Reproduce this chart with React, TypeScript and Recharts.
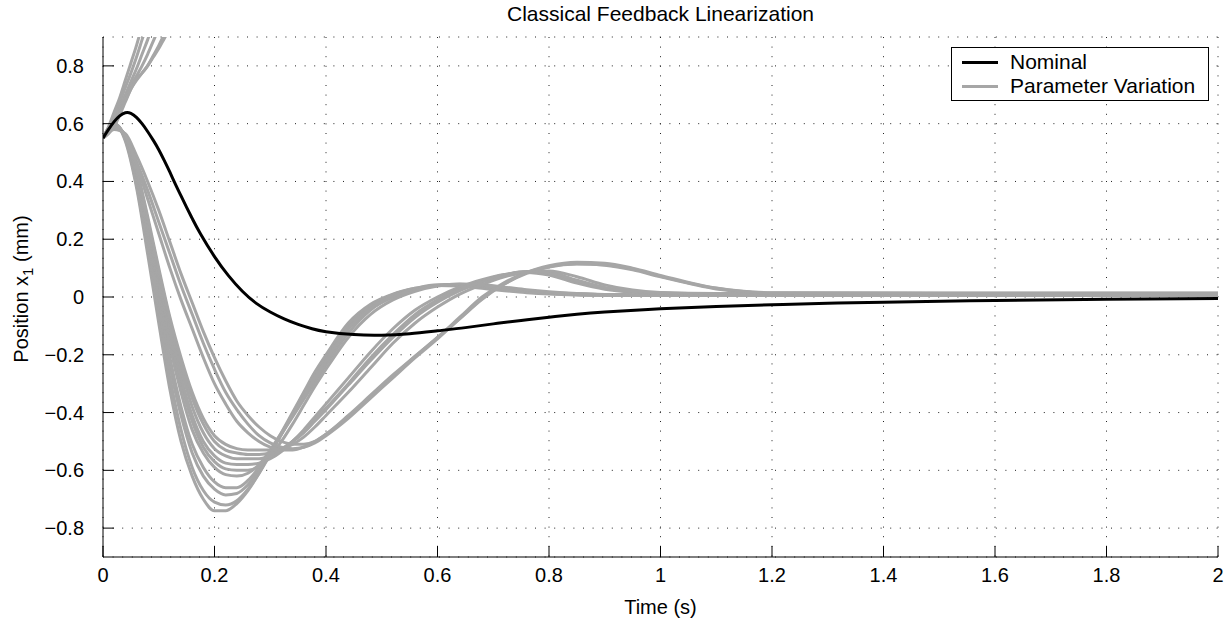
import React from 'react';
import { LineChart, Line, XAxis, YAxis, CartesianGrid, Legend } from 'recharts';

const FONT = '"Liberation Sans", Arial, Helvetica, sans-serif';
const GRAY = '#a6a6a6';
const TICK_LEN = 11;

// Axis ticks
const xTicks = [0, 0.2, 0.4, 0.6, 0.8, 1, 1.2, 1.4, 1.6, 1.8, 2];
const yTicks = [-0.8, -0.6, -0.4, -0.2, 0, 0.2, 0.4, 0.6, 0.8];

// Nominal response
const nominalTime = [0, 0.01, 0.02, 0.03, 0.04, 0.05, 0.06, 0.07, 0.08, 0.09, 0.10, 0.11, 0.12, 0.13, 0.14, 0.15, 0.16, 0.175, 0.20, 0.225, 0.25, 0.275, 0.30, 0.325, 0.35, 0.375, 0.40, 0.45, 0.50, 0.55, 0.60, 0.65, 0.70, 0.75, 0.80, 0.85, 0.90, 1.0, 1.1, 1.2, 1.3, 1.4, 1.6, 1.8, 2.0];
const nominalValues = [0.55, 0.58, 0.607, 0.627, 0.638, 0.636, 0.622, 0.6, 0.573, 0.543, 0.51, 0.472, 0.432, 0.39, 0.35, 0.31, 0.272, 0.218, 0.14, 0.074, 0.02, -0.022, -0.052, -0.076, -0.095, -0.11, -0.12, -0.13, -0.132, -0.127, -0.117, -0.106, -0.093, -0.081, -0.07, -0.06, -0.052, -0.041, -0.033, -0.027, -0.022, -0.018, -0.012, -0.008, -0.005];

// Parameter variation runs (converging)
const runTime = [0, 0.02, 0.04, 0.06, 0.08, 0.10, 0.12, 0.14, 0.16, 0.18, 0.20, 0.22, 0.24, 0.26, 0.28, 0.30, 0.32, 0.34, 0.36, 0.38, 0.40, 0.44, 0.48, 0.52, 0.56, 0.60, 0.64, 0.68, 0.72, 0.76, 0.80, 0.85, 0.90, 0.95, 1.00, 1.10, 1.20, 1.50, 2.00];
const runA = [0.55, 0.60, 0.54, 0.38, 0.15, -0.09, -0.32, -0.50, -0.62, -0.70, -0.74, -0.74, -0.715, -0.67, -0.61, -0.54, -0.47, -0.40, -0.33, -0.26, -0.20, -0.09, -0.025, 0.01, 0.03, 0.04, 0.038, 0.03, 0.022, 0.015, 0.01, 0.007, 0.006, 0.005, 0.005, 0.005, 0.005, 0.005, 0.005];
const runB = [0.55, 0.60, 0.545, 0.39, 0.17, -0.06, -0.28, -0.46, -0.59, -0.67, -0.71, -0.72, -0.705, -0.665, -0.61, -0.545, -0.475, -0.405, -0.335, -0.27, -0.21, -0.10, -0.03, 0.008, 0.03, 0.042, 0.042, 0.034, 0.025, 0.017, 0.012, 0.008, 0.006, 0.005, 0.005, 0.005, 0.005, 0.005, 0.005];
const runC = [0.55, 0.60, 0.55, 0.40, 0.19, -0.03, -0.24, -0.41, -0.54, -0.62, -0.665, -0.685, -0.68, -0.65, -0.60, -0.54, -0.475, -0.41, -0.345, -0.28, -0.22, -0.11, -0.035, 0.005, 0.028, 0.04, 0.043, 0.037, 0.028, 0.02, 0.014, 0.009, 0.007, 0.006, 0.006, 0.006, 0.006, 0.006, 0.006];
const runD = [0.55, 0.60, 0.55, 0.41, 0.21, 0.0, -0.21, -0.38, -0.51, -0.59, -0.64, -0.66, -0.66, -0.635, -0.59, -0.535, -0.475, -0.415, -0.355, -0.295, -0.235, -0.125, -0.045, 0.0, 0.026, 0.04, 0.044, 0.039, 0.03, 0.022, 0.016, 0.011, 0.008, 0.007, 0.006, 0.006, 0.006, 0.006, 0.006];
const runE = [0.55, 0.595, 0.55, 0.42, 0.23, 0.03, -0.17, -0.33, -0.46, -0.54, -0.59, -0.615, -0.62, -0.61, -0.58, -0.53, -0.47, -0.41, -0.345, -0.28, -0.22, -0.11, -0.04, 0.0, 0.025, 0.04, 0.043, 0.038, 0.03, 0.022, 0.016, 0.011, 0.008, 0.007, 0.006, 0.006, 0.006, 0.006, 0.006];
const runF = [0.55, 0.595, 0.55, 0.425, 0.24, 0.05, -0.14, -0.30, -0.43, -0.52, -0.57, -0.595, -0.60, -0.60, -0.585, -0.55, -0.50, -0.44, -0.375, -0.31, -0.25, -0.14, -0.06, -0.01, 0.02, 0.038, 0.045, 0.042, 0.034, 0.025, 0.018, 0.012, 0.009, 0.008, 0.007, 0.007, 0.007, 0.007, 0.007];
const runG = [0.55, 0.595, 0.555, 0.43, 0.25, 0.06, -0.12, -0.28, -0.41, -0.50, -0.55, -0.575, -0.58, -0.58, -0.575, -0.56, -0.535, -0.50, -0.46, -0.415, -0.37, -0.28, -0.19, -0.11, -0.045, 0.0, 0.035, 0.06, 0.078, 0.085, 0.076, 0.048, 0.027, 0.017, 0.013, 0.011, 0.011, 0.011, 0.011];
const runH = [0.55, 0.59, 0.555, 0.435, 0.26, 0.08, -0.10, -0.25, -0.38, -0.47, -0.525, -0.55, -0.56, -0.56, -0.56, -0.55, -0.53, -0.50, -0.465, -0.425, -0.385, -0.30, -0.21, -0.13, -0.06, -0.01, 0.028, 0.056, 0.077, 0.088, 0.082, 0.054, 0.03, 0.018, 0.013, 0.011, 0.011, 0.011, 0.011];
const runI = [0.55, 0.59, 0.56, 0.44, 0.27, 0.09, -0.08, -0.23, -0.35, -0.44, -0.50, -0.53, -0.54, -0.545, -0.545, -0.54, -0.525, -0.50, -0.47, -0.43, -0.39, -0.305, -0.22, -0.14, -0.07, -0.018, 0.022, 0.052, 0.075, 0.088, 0.085, 0.058, 0.033, 0.02, 0.014, 0.012, 0.012, 0.012, 0.012];
const runJ = [0.55, 0.59, 0.56, 0.445, 0.28, 0.10, -0.07, -0.21, -0.33, -0.42, -0.48, -0.51, -0.525, -0.53, -0.53, -0.53, -0.525, -0.51, -0.485, -0.45, -0.41, -0.33, -0.245, -0.16, -0.09, -0.035, 0.01, 0.043, 0.07, 0.086, 0.09, 0.07, 0.042, 0.024, 0.016, 0.012, 0.012, 0.012, 0.012];
const runK = [0.55, 0.58, 0.565, 0.49, 0.40, 0.30, 0.19, 0.08, -0.02, -0.12, -0.21, -0.29, -0.36, -0.41, -0.45, -0.48, -0.50, -0.51, -0.51, -0.50, -0.475, -0.415, -0.345, -0.275, -0.205, -0.14, -0.07, 0.0, 0.05, 0.085, 0.105, 0.115, 0.11, 0.094, 0.07, 0.028, 0.013, 0.012, 0.012];
const runL = [0.55, 0.585, 0.56, 0.47, 0.37, 0.26, 0.15, 0.04, -0.06, -0.16, -0.25, -0.33, -0.39, -0.44, -0.48, -0.505, -0.52, -0.525, -0.52, -0.505, -0.48, -0.42, -0.35, -0.28, -0.21, -0.145, -0.075, -0.005, 0.045, 0.082, 0.104, 0.114, 0.112, 0.097, 0.072, 0.03, 0.014, 0.013, 0.013];
const runM = [0.55, 0.59, 0.56, 0.46, 0.34, 0.22, 0.10, -0.01, -0.11, -0.21, -0.30, -0.37, -0.43, -0.47, -0.50, -0.52, -0.53, -0.53, -0.52, -0.50, -0.475, -0.41, -0.34, -0.27, -0.205, -0.14, -0.075, -0.008, 0.045, 0.085, 0.108, 0.12, 0.117, 0.1, 0.075, 0.031, 0.015, 0.014, 0.014];

// Parameter variation runs (diverging, leave the axes at the top)
const divergeTime = [0, 0.01, 0.02, 0.03, 0.04, 0.05, 0.06, 0.07, 0.08, 0.09, 0.10, 0.11, 0.12, 0.13];
const divA = [0.55, 0.59, 0.64, 0.69, 0.75, 0.81, 0.87, 0.94, 1.02];
const divB = [0.55, 0.585, 0.63, 0.675, 0.725, 0.775, 0.83, 0.89, 0.95, 1.02];
const divC = [0.55, 0.58, 0.62, 0.66, 0.70, 0.745, 0.79, 0.84, 0.89, 0.945, 1.0];
const divD = [0.55, 0.575, 0.61, 0.65, 0.69, 0.73, 0.765, 0.80, 0.84, 0.885, 0.93, 0.98];
const divE = [0.55, 0.57, 0.60, 0.64, 0.68, 0.72, 0.75, 0.775, 0.80, 0.835, 0.87, 0.91, 0.95];
const divF = [0.55, 0.565, 0.59, 0.63, 0.675, 0.72, 0.755, 0.775, 0.80, 0.83, 0.86, 0.895, 0.93, 0.97];

const toPoints = (time: number[], values: number[]) => values.map((v, i) => ({ t: time[i], v }));

const nominalData = toPoints(nominalTime, nominalValues);
const convergingRuns = [runA, runB, runC, runD, runE, runF, runG, runH, runI, runJ, runK, runL, runM].map((vals) => toPoints(runTime, vals));
const divergingRuns = [divA, divB, divC, divD, divE, divF].map((vals) => toPoints(divergeTime, vals));

const fmt = (v: number) => {
  const r = Number(v.toFixed(1));
  if (r === 0) return '0';
  return (r < 0 ? '\u2212' : '') + String(Math.abs(r));
};

const TS = 8; // tickSize passed to recharts (used to recover the axis position)

const BottomTick = (props: any) => {
  const { x, y, payload } = props;
  const ay = y - TS;
  return (
    <g>
      <line x1={x} x2={x} y1={ay} y2={ay - TICK_LEN} stroke="#000" strokeWidth={1} />
      <text x={x} y={ay + 25} textAnchor="middle" fontFamily={FONT} fontSize={20} fill="#000">
        {fmt(payload.value)}
      </text>
    </g>
  );
};

const TopTick = (props: any) => {
  const { x, y } = props;
  const ay = y + TS;
  return <line x1={x} x2={x} y1={ay} y2={ay + TICK_LEN} stroke="#000" strokeWidth={1} />;
};

const LeftTick = (props: any) => {
  const { x, y, payload } = props;
  const ax = x + TS;
  return (
    <g>
      <line x1={ax} x2={ax + TICK_LEN} y1={y} y2={y} stroke="#000" strokeWidth={1} />
      <text x={ax - 19} y={y + 7} textAnchor="end" fontFamily={FONT} fontSize={20} fill="#000">
        {fmt(payload.value)}
      </text>
    </g>
  );
};

const RightTick = (props: any) => {
  const { x, y } = props;
  const ax = x - TS;
  return <line x1={ax} x2={ax - TICK_LEN} y1={y} y2={y} stroke="#000" strokeWidth={1} />;
};

const XLabel = (props: any) => {
  const vb = props.viewBox || { x: 103, y: 557, width: 1115, height: 69 };
  return (
    <text x={vb.x + vb.width / 2} y={vb.y + 57} textAnchor="middle" fontFamily={FONT} fontSize={20} fill="#000">
      Time (s)
    </text>
  );
};

const YLabel = (props: any) => {
  const vb = props.viewBox || { x: 0, y: 37, width: 103, height: 520 };
  const cx = vb.x + 28;
  const cy = vb.y + vb.height / 2 - 8;
  return (
    <text x={cx} y={cy} transform={`rotate(-90 ${cx} ${cy})`} textAnchor="middle" fontFamily={FONT} fontSize={20} fill="#000">
      Position x<tspan dy={5} fontSize={15}>1</tspan>
      <tspan dy={-5}> (mm)</tspan>
    </text>
  );
};

const LegendBox = () => (
  <div
    style={{
      position: 'relative',
      width: 258,
      height: 54,
      boxSizing: 'border-box',
      border: '1px solid #000',
      background: '#fff',
      fontFamily: FONT,
      fontSize: 21,
      color: '#000',
    }}
  >
    {[
      { name: 'Nominal', color: '#000', top: 14 },
      { name: 'Parameter Variation', color: GRAY, top: 38 },
    ].map((row) => (
      <div key={row.name} style={{ position: 'absolute', left: 0, top: row.top - 12, height: 24, display: 'flex', alignItems: 'center' }}>
        <div style={{ marginLeft: 10, width: 36, height: 3, background: row.color }} />
        <span style={{ marginLeft: 12, lineHeight: '24px', whiteSpace: 'nowrap' }}>{row.name}</span>
      </div>
    ))}
  </div>
);

export default function App() {
  return (
    <div style={{ position: 'absolute', left: 0, top: 0, width: 1231, height: 626, background: '#fff' }}>
      <div
        style={{
          position: 'absolute',
          left: 103,
          top: 3,
          width: 1115,
          textAlign: 'center',
          fontFamily: FONT,
          fontSize: 21,
          lineHeight: '21px',
          color: '#000',
          zIndex: 2,
        }}
      >
        Classical Feedback Linearization
      </div>
      <LineChart width={1231} height={626} margin={{ top: 37, right: 13, bottom: 0, left: 0 }}>
        <CartesianGrid xAxisId="bottom" yAxisId="left" stroke="#222" strokeDasharray="1 8.6" strokeWidth={1} />
        <XAxis
          xAxisId="bottom"
          type="number"
          dataKey="t"
          domain={[0, 2]}
          ticks={xTicks}
          allowDataOverflow
          height={69}
          tickSize={TS}
          tickMargin={0}
          tickLine={false}
          axisLine={{ stroke: '#000', strokeWidth: 1 }}
          tick={<BottomTick />}
          label={<XLabel />}
        />
        <XAxis
          xAxisId="top"
          orientation="top"
          type="number"
          dataKey="t"
          domain={[0, 2]}
          ticks={xTicks}
          allowDataOverflow
          height={0}
          tickSize={TS}
          tickMargin={0}
          tickLine={false}
          axisLine={{ stroke: '#000', strokeWidth: 1 }}
          tick={<TopTick />}
        />
        <YAxis
          yAxisId="left"
          type="number"
          domain={[-0.9, 0.9]}
          ticks={yTicks}
          allowDataOverflow
          width={103}
          tickSize={TS}
          tickMargin={0}
          tickLine={false}
          axisLine={{ stroke: '#000', strokeWidth: 1 }}
          tick={<LeftTick />}
          label={<YLabel />}
        />
        <YAxis
          yAxisId="right"
          orientation="right"
          type="number"
          domain={[-0.9, 0.9]}
          ticks={yTicks}
          allowDataOverflow
          width={0}
          tickSize={TS}
          tickMargin={0}
          tickLine={false}
          axisLine={{ stroke: '#000', strokeWidth: 1 }}
          tick={<RightTick />}
        />
        {divergingRuns.map((d, i) => (
          <Line
            key={`div-${i}`}
            xAxisId="bottom"
            yAxisId="left"
            data={d}
            dataKey="v"
            type="monotone"
            stroke={GRAY}
            strokeWidth={3}
            dot={false}
            activeDot={false}
            isAnimationActive={false}
            legendType="none"
          />
        ))}
        {convergingRuns.map((d, i) => (
          <Line
            key={`run-${i}`}
            xAxisId="bottom"
            yAxisId="left"
            data={d}
            dataKey="v"
            type="monotone"
            stroke={GRAY}
            strokeWidth={3}
            dot={false}
            activeDot={false}
            isAnimationActive={false}
            legendType="none"
          />
        ))}
        <Line
          xAxisId="bottom"
          yAxisId="left"
          data={nominalData}
          dataKey="v"
          type="natural"
          stroke="#000"
          strokeWidth={3}
          dot={false}
          activeDot={false}
          isAnimationActive={false}
          legendType="none"
        />
        <Legend
          layout="vertical"
          align="center"
          verticalAlign="middle"
          content={() => <LegendBox />}
          wrapperStyle={{ left: 951, top: 47, width: 258, height: 54, margin: 0 }}
        />
      </LineChart>
    </div>
  );
}
